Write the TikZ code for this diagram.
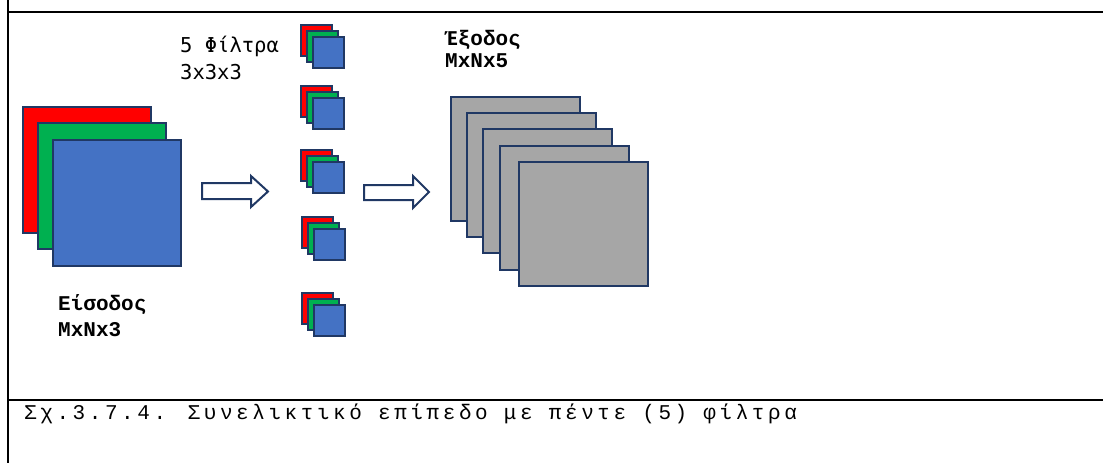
\documentclass[tikz,border=0pt]{standalone}
\usepackage{fontspec}
\newfontfamily\dmono{DejaVu Sans Mono}
\newfontfamily\lmono{Liberation Mono}
\newfontfamily\capfont[LetterSpace=17]{Liberation Mono}
\definecolor{navy}{HTML}{203864}
\definecolor{rred}{HTML}{FF0000}
\definecolor{ggreen}{HTML}{00B050}
\definecolor{bblue}{HTML}{4472C4}
\definecolor{ggrey}{HTML}{A6A6A6}
\tikzset{
  bigsq/.style={draw=navy, line width=2.2pt, anchor=north west, inner sep=0pt, minimum width=128pt, minimum height=126pt},
  outsq/.style={draw=navy, line width=2.2pt, fill=ggrey, anchor=north west, inner sep=0pt, minimum width=129pt, minimum height=124pt},
  smsq/.style={draw=navy, line width=1.8pt, anchor=north west, inner sep=0pt, minimum width=31pt, minimum height=31pt},
  blockarrow/.style={draw=navy, line width=2pt, fill=white, line join=miter},
  frameline/.style={draw=black, line width=2.3pt},
  lblA/.style={anchor=base west, inner sep=0pt, font=\dmono\fontsize{20.5}{24}\selectfont},
  lblB/.style={anchor=base west, inner sep=0pt, font=\lmono\bfseries\fontsize{21}{24}\selectfont},
  captxt/.style={anchor=base west, inner sep=0pt, font=\capfont\fontsize{21}{26}\selectfont}
}
\begin{document}
\begin{tikzpicture}[x=1pt,y=-1pt]
\useasboundingbox (0,0) rectangle (1103,463);
% frame
\draw[frameline] (8,0) -- (8,463);
\draw[frameline] (8,12) -- (1103,12);
\draw[frameline] (8,400) -- (1103,400);
% input
\node[bigsq, fill=rred] (inR) at (22,106) {};
\node[bigsq, fill=ggreen] (inG) at (37,122) {};
\node[bigsq, fill=bblue] (inB) at (52,139) {};
% filters
\foreach \i/\x/\y in {1/300/24, 2/300/85, 3/300/149, 4/301/216, 5/301/292}{
  \node[smsq, fill=rred] (f\i r) at (\x,\y) {};
  \node[smsq, fill=ggreen] (f\i g) at (\x+6,\y+6) {};
  \node[smsq, fill=bblue] (f\i b) at (\x+12,\y+12) {};
}
% output
\node[outsq] (o1) at (450,96) {};
\node[outsq] (o2) at (466,112) {};
\node[outsq] (o3) at (482,128) {};
\node[outsq] (o4) at (499,145) {};
\node[outsq] (o5) at (518,161) {};
% arrows
\draw[blockarrow] (202,183) -- (251,183) -- (251,176) -- (268,191.5) -- (251,207) -- (251,199) -- (202,199) -- cycle;
\draw[blockarrow] (364,185) -- (413,185) -- (413,176) -- (429,192) -- (413,208) -- (413,200) -- (364,200) -- cycle;
% labels
\node[lblA] (fl1) at (180,52) {5 Φίλτρα};
\node[lblA] (fl2) at (180,79) {3x3x3};
\node[lblB] (in1) at (58,310) {Είσοδος};
\node[lblB] (in2) at (58,336) {MxNx3};
\node[lblB] (ou1) at (445,45) {Έξοδος};
\node[lblB] (ou2) at (445,67) {MxNx5};
% caption
\node[captxt] (cap) at (24,419) {Σχ.3.7.4. Συνελικτικό επίπεδο με πέντε (5) φίλτρα};
\end{tikzpicture}
\end{document}
